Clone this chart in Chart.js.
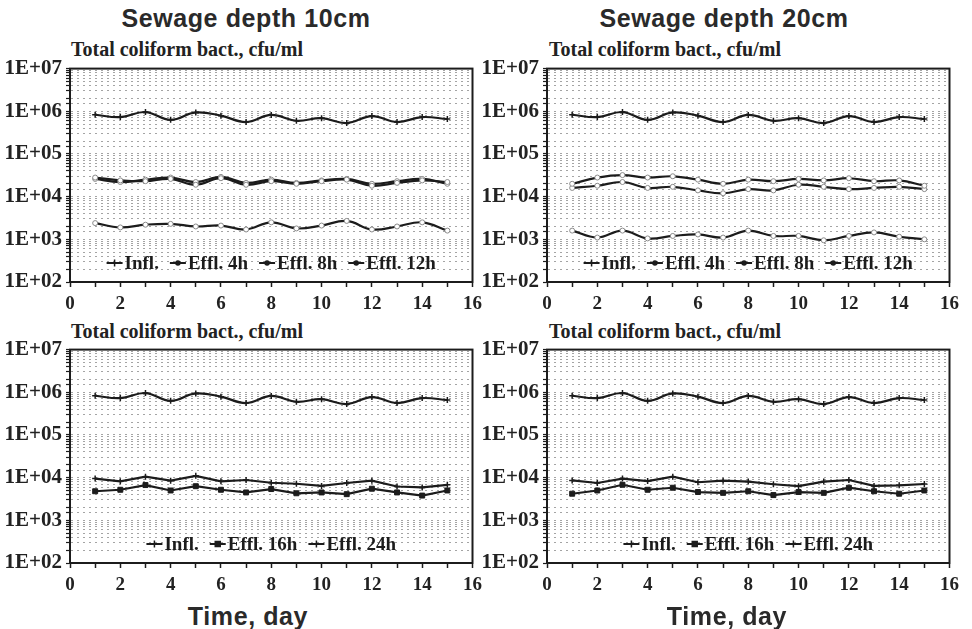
<!DOCTYPE html>
<html lang="en">
<head>
<meta charset="UTF-8">
<title>Total coliform bacteria vs. time</title>
<script src="https://cdn.jsdelivr.net/npm/chart.js"></script>
<style>
  body { margin: 0; background: #fff; width: 972px; height: 629px; position: relative; overflow: hidden; }
  .head { position: absolute; width: 486px; text-align: center; font: bold 25px/25px 'Liberation Sans', Arial, sans-serif; letter-spacing: 0.6px; color: #2a2a2a; }
  .sub { position: absolute; font: bold 20px/20px 'Liberation Serif', 'Times New Roman', serif; color: #222; white-space: nowrap; }
  canvas { position: absolute; }
</style>
</head>
<body>
  <div class="head" style="left:3px; top:6px;">Sewage depth 10cm</div>
  <div class="head" style="left:481px; top:6px;">Sewage depth 20cm</div>

  <div class="sub" style="left:71px; top:39px;">Total coliform bact., cfu/ml</div>
  <div class="sub" style="left:549px; top:39px;">Total coliform bact., cfu/ml</div>
  <div class="sub" style="left:71px; top:321px;">Total coliform bact., cfu/ml</div>
  <div class="sub" style="left:549px; top:321px;">Total coliform bact., cfu/ml</div>

  <canvas id="c10a" width="488" height="258" style="left:0; top:52px;"></canvas>
  <canvas id="c20a" width="488" height="258" style="left:477px; top:52px;"></canvas>
  <canvas id="c10b" width="488" height="258" style="left:0; top:333px;"></canvas>
  <canvas id="c20b" width="488" height="258" style="left:477px; top:333px;"></canvas>

  <div class="head" style="left:5px; top:604px;">Time, day</div>
  <div class="head" style="left:484px; top:604px;">Time, day</div>

<script>
  // sampling days
  const days = [1, 2, 3, 4, 5, 6, 7, 8, 9, 10, 11, 12, 13, 14, 15];

  // influent (same raw sewage for every panel), cfu/ml
  const infl = [8.3e5, 7.3e5, 9.6e5, 6.3e5, 9.4e5, 7.9e5, 5.6e5, 8.2e5, 6.0e5, 6.9e5, 5.3e5, 7.7e5, 5.6e5, 7.3e5, 6.6e5];

  // depth 10 cm, short retention
  const d10Effl4h = [2.8e4, 2.4e4, 2.3e4, 2.6e4, 1.9e4, 2.7e4, 1.9e4, 2.3e4, 2.0e4, 2.3e4, 2.5e4, 1.8e4, 2.1e4, 2.4e4, 2.2e4];
  const d10Effl8h = [2.6e4, 2.2e4, 2.5e4, 2.8e4, 2.2e4, 2.9e4, 2.1e4, 2.5e4, 2.1e4, 2.4e4, 2.6e4, 2.0e4, 2.3e4, 2.6e4, 2.0e4];
  const d10Effl12h = [2.4e3, 1.9e3, 2.2e3, 2.3e3, 2.0e3, 2.1e3, 1.7e3, 2.5e3, 1.8e3, 2.1e3, 2.7e3, 1.7e3, 2.0e3, 2.5e3, 1.6e3];

  // depth 20 cm, short retention
  const d20Effl4h = [2.0e4, 2.8e4, 3.2e4, 2.8e4, 3.0e4, 2.5e4, 2.0e4, 2.5e4, 2.3e4, 2.6e4, 2.4e4, 2.7e4, 2.3e4, 2.4e4, 1.8e4];
  const d20Effl8h = [1.6e4, 1.8e4, 2.2e4, 1.6e4, 1.7e4, 1.4e4, 1.2e4, 1.5e4, 1.4e4, 1.9e4, 1.7e4, 1.5e4, 1.6e4, 1.7e4, 1.5e4];
  const d20Effl12h = [1.6e3, 1.1e3, 1.6e3, 1.05e3, 1.2e3, 1.3e3, 1.1e3, 1.6e3, 1.2e3, 1.2e3, 0.95e3, 1.2e3, 1.45e3, 1.15e3, 1.0e3];

  // long retention
  const d10Effl16h = [4.8e3, 5.2e3, 6.7e3, 5.0e3, 6.3e3, 5.2e3, 4.5e3, 5.4e3, 4.3e3, 4.5e3, 4.1e3, 5.5e3, 4.5e3, 3.8e3, 5.0e3];
  const d10Effl24h = [9.5e3, 8.2e3, 1.05e4, 8.5e3, 1.1e4, 8.2e3, 8.8e3, 7.6e3, 7.2e3, 6.4e3, 7.5e3, 8.5e3, 6.2e3, 5.9e3, 6.8e3];
  const d20Effl16h = [4.2e3, 5.0e3, 6.8e3, 5.2e3, 5.8e3, 4.6e3, 4.4e3, 4.8e3, 3.9e3, 4.6e3, 4.4e3, 5.8e3, 4.8e3, 4.2e3, 5.0e3];
  const d20Effl24h = [8.6e3, 7.5e3, 9.5e3, 8.3e3, 1.05e4, 7.8e3, 8.5e3, 8.1e3, 7.0e3, 6.3e3, 8.1e3, 8.8e3, 6.4e3, 6.6e3, 7.1e3];

  // y axis range and decade labels
  const yMin = 1e2, yMax = 1e7;
  const decadeLabels = ['1E+02', '1E+03', '1E+04', '1E+05', '1E+06', '1E+07'];

  const ink = '#1c1c1c';
  const serif = "'Liberation Serif', 'Times New Roman', serif";

  function series(label, values, style) {
    return Object.assign({
      label,
      data: days.map((d, i) => ({ x: d, y: values[i] })),
      borderColor: ink,
      backgroundColor: ink,
      borderWidth: 2.2,
      pointRadius: 3,
      pointBorderWidth: 1.5,
      pointStyle: 'cross',
      tension: 0.4,
      fill: false
    }, style);
  }

  const openDot = { pointStyle: 'circle', pointRadius: 2.5, pointBorderWidth: 1, pointBorderColor: '#8a8a8a', pointBackgroundColor: '#ffffff' };
  const square = { pointStyle: 'rect', pointRadius: 3.5, pointBorderWidth: 1, tension: 0 };
  const tick24 = { pointStyle: 'cross', pointRadius: 3, tension: 0 };

  // frame around the plot area
  const frame = {
    id: 'frame',
    afterDatasetsDraw(chart) {
      const { ctx, chartArea: a } = chart;
      ctx.save();
      ctx.strokeStyle = ink;
      ctx.lineWidth = 2;
      ctx.strokeRect(a.left, a.top, a.right - a.left, a.bottom - a.top);
      ctx.restore();
    }
  };

  // legend drawn inside the plot near the bottom
  const plotLegend = {
    id: 'plotLegend',
    afterDraw(chart) {
      const { ctx, chartArea: a } = chart;
      const sets = chart.data.datasets;
      const sample = 16, gap = 2, spacing = 11;
      ctx.save();
      ctx.font = 'bold 19px ' + serif;
      const widths = sets.map(ds => sample + gap + ctx.measureText(ds.label).width);
      const total = widths.reduce((s, w) => s + w, 0) + spacing * (sets.length - 1);
      let x = (a.left + a.right) / 2 - total / 2;
      const y = a.bottom - 19;
      sets.forEach((ds, i) => {
        ctx.strokeStyle = ink;
        ctx.fillStyle = ink;
        ctx.lineWidth = 2;
        ctx.beginPath();
        ctx.moveTo(x, y);
        ctx.lineTo(x + sample, y);
        ctx.stroke();
        ctx.lineWidth = 1.5;
        Chart.helpers.drawPoint(ctx, {
          pointStyle: ds.pointStyle, radius: ds.pointStyle === 'circle' ? 2 : 3.5,
          rotation: 0, borderWidth: 1.5
        }, x + sample / 2, y);
        ctx.fillStyle = ink;
        ctx.textBaseline = 'middle';
        ctx.textAlign = 'left';
        ctx.fillText(ds.label, x + sample + gap, y + 1);
        x += widths[i] + spacing;
      });
      ctx.restore();
    }
  };

  function panel(id, datasets) {
    return new Chart(document.getElementById(id), {
      type: 'line',
      data: { datasets },
      plugins: [frame, plotLegend],
      options: {
        responsive: false,
        animation: false,
        layout: { padding: { top: 14, right: 12, left: 0, bottom: 0 } },
        plugins: { legend: { display: false }, tooltip: { enabled: false } },
        scales: {
          x: {
            type: 'linear',
            min: 0,
            max: 16,
            afterFit: s => { s.height = 28; },
            ticks: {
              stepSize: 1,
              autoSkip: false,
              maxRotation: 0,
              padding: 6,
              color: '#222',
              font: { family: serif, size: 19, weight: 'bold' },
              callback: v => (v % 2 === 0 ? String(v) : '')
            },
            grid: { drawOnChartArea: false, drawTicks: true, tickLength: 5, tickColor: ink, tickWidth: 1.5 },
            border: { display: true, color: ink, width: 2 }
          },
          y: {
            type: 'logarithmic',
            min: yMin,
            max: yMax,
            afterFit: s => { s.width = 70; },
            ticks: {
              autoSkip: false,
              padding: 4,
              color: '#222',
              font: { family: serif, size: 21, weight: 'bold' },
              callback: v => {
                const e = Math.log10(v);
                return Math.abs(e - Math.round(e)) < 1e-9 ? decadeLabels[Math.round(e) - 2] : '';
              }
            },
            grid: { color: '#a4a4a4', lineWidth: 1, drawTicks: true, tickLength: 4, tickColor: ink, tickWidth: 1.2 },
            border: { display: true, color: ink, width: 2, dash: [2, 4] }
          }
        }
      }
    });
  }

  panel('c10a', [
    series('Infl.', infl),
    series('Effl. 4h', d10Effl4h, openDot),
    series('Effl. 8h', d10Effl8h, openDot),
    series('Effl. 12h', d10Effl12h, openDot)
  ]);

  panel('c20a', [
    series('Infl.', infl),
    series('Effl. 4h', d20Effl4h, openDot),
    series('Effl. 8h', d20Effl8h, openDot),
    series('Effl. 12h', d20Effl12h, openDot)
  ]);

  panel('c10b', [
    series('Infl.', infl),
    series('Effl. 16h', d10Effl16h, square),
    series('Effl. 24h', d10Effl24h, tick24)
  ]);

  panel('c20b', [
    series('Infl.', infl),
    series('Effl. 16h', d20Effl16h, square),
    series('Effl. 24h', d20Effl24h, tick24)
  ]);
</script>
</body>
</html>
